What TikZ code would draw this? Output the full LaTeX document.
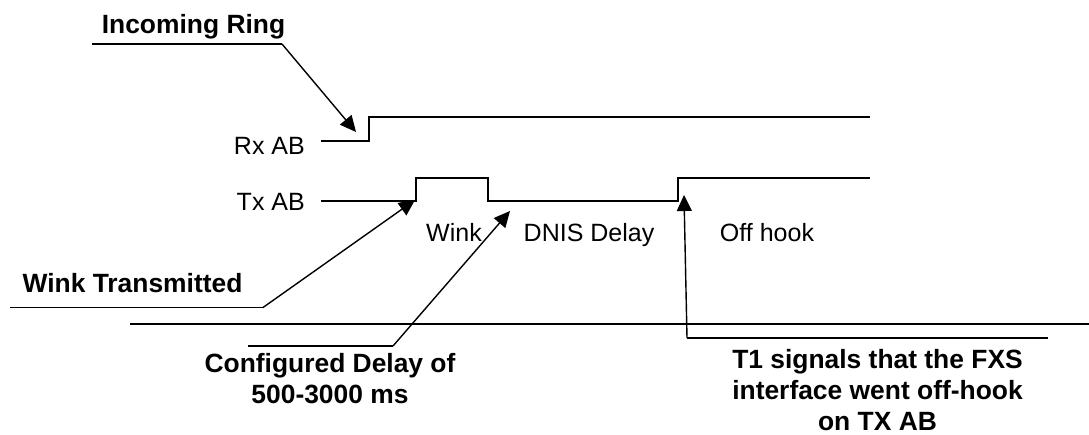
\documentclass[tikz,border=0pt]{standalone}
\usepackage{fontspec}
\setmainfont{Liberation Sans}
\usetikzlibrary{arrows.meta}
\begin{document}
\begin{tikzpicture}[x=1pt,y=-1pt,
  lbl/.style={inner sep=0pt,font=\fontsize{25}{30}\selectfont},
  blbl/.style={inner sep=0pt,align=center,font=\fontsize{26.4}{31}\selectfont\bfseries},
  sig/.style={line width=2pt,line join=miter},
  lead/.style={line width=1.4pt},
  arr/.style={lead,-{Triangle[length=16pt,width=15pt]}},
  rule/.style={line width=2pt}]
\useasboundingbox (0,0) rectangle (1089,435);
% labels
\node[blbl,anchor=base] (ir) at (193.5,34) {Incoming Ring};
\node[lbl,anchor=base east] (rx) at (305,155) {Rx AB};
\node[lbl,anchor=base east] (tx) at (305,211) {Tx AB};
\node[blbl,anchor=base] (wt) at (132.5,293) {Wink Transmitted};
\node[lbl,anchor=base] (wink) at (454,242) {Wink};
\node[lbl,anchor=base] (dnis) at (589,242) {DNIS Delay};
\node[lbl,anchor=base] (off) at (767,242) {Off hook};
\node[blbl,anchor=base] (cd1) at (330,372) {Configured Delay of};
\node[blbl,anchor=base] (cd2) at (330,403) {500-3000 ms};
\node[blbl,anchor=base] (t1a) at (877.5,368) {T1 signals that the FXS};
\node[blbl,anchor=base] (t1b) at (877.5,399) {interface went off-hook};
\node[blbl,anchor=base] (t1c) at (877.5,430) {on TX AB};
% waveform points
\coordinate (rx0) at (321,141);
\coordinate (rxe) at (369,141);
\coordinate (rxh) at (369,117);
\coordinate (rx1) at (870,117);
\coordinate (tx0) at (321,201.5);
\coordinate (tw1) at (416,201.5);
\coordinate (tw2) at (416,178);
\coordinate (tw3) at (488,178);
\coordinate (tw4) at (488,201.5);
\coordinate (to1) at (678,201.5);
\coordinate (to2) at (678,178);
\coordinate (tx1) at (870,178);
\draw[sig] (rx0) -- (rxe) -- (rxh) -- (rx1);
\draw[sig] (tx0) -- (tw1) -- (tw2) -- (tw3) -- (tw4) -- (to1) -- (to2) -- (tx1);
% long rule
\coordinate (rl0) at (130,324.5);
\coordinate (rl1) at (1089,324.5);
\draw[rule] (rl0) -- (rl1);
% leaders
\coordinate (ir0) at (92,44);
\coordinate (ir1) at (282,44);
\coordinate (irt) at (356,132);
\draw[lead] (ir0) -- (ir1);
\draw[arr] (ir1) -- (irt);
\coordinate (wt0) at (10,307.5);
\coordinate (wt1) at (263,307.5);
\coordinate (wtt) at (415,200);
\draw[lead] (wt0) -- (wt1);
\draw[arr] (wt1) -- (wtt);
\coordinate (cd0) at (248,346);
\coordinate (cdc) at (393,346);
\coordinate (cdt) at (510,211);
\draw[lead] (cd0) -- (cdc);
\draw[arr] (cdc) -- (cdt);
\coordinate (t10) at (1048,338);
\coordinate (t1c) at (687,338);
\coordinate (t1t) at (684,195);
\draw[lead] (t10) -- (t1c);
\draw[arr] (t1c) -- (t1t);
\end{tikzpicture}
\end{document}
